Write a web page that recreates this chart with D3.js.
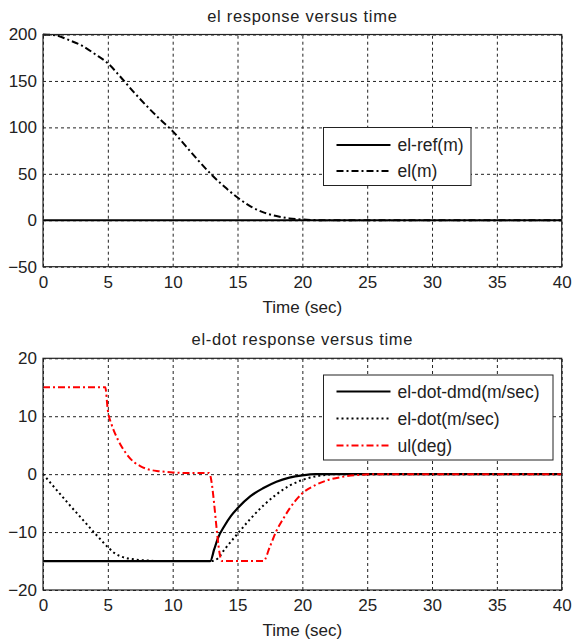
<!DOCTYPE html>
<html>
<head>
<meta charset="utf-8">
<script src="https://cdn.jsdelivr.net/npm/d3@7/dist/d3.min.js"></script>
<style>
body{margin:0;background:#fff;}
text{font-family:"Liberation Sans",Arial,sans-serif;fill:#222;}
</style>
</head>
<body>
<svg id="chart"></svg>
<script>
// ---- data ----
var xTicks = [0,5,10,15,20,25,30,35,40];
var topYTicks = [-50,0,50,100,150,200];
var bottomYTicks = [-20,-10,0,10,20];

var refTime = [0,40];
var refValues = [0,0];

var elTime = [0,1,2,3,4,5,6,7,8,9,10,11,12,13,14,15,16,17,18,19,20,21,22,40];
var elValues = [200,199,194,188,179,169,154,138,123,109,96,80,64,49,36,24.5,15,8.5,4.5,2,0.8,0.2,0,0];

var dmdTime = [0,12.9,13.2,13.5,14,14.5,15,16,17,18,19,20,21,40];
var dmdValues = [-15,-15,-13,-11,-8.9,-7.2,-5.9,-3.8,-2.4,-1.3,-0.6,-0.2,0,0];

var dotTime = [0,1,2,3,4,5,5.5,6,7,8,9,13,13.5,14,15,16,17,18,19,20,21,22,23,40];
var dotValues = [0,-2.6,-5.2,-7.7,-10.2,-12.6,-13.6,-14.2,-14.7,-14.9,-15,-15,-14.5,-13,-10.3,-7.7,-5.4,-3.5,-2,-1,-0.4,-0.1,0,0];

var ulTime = [0,4.8,5,5.3,5.6,6,6.5,7,7.5,8,9,10,11,12.8,13.8,17,17.5,18,18.5,19,19.5,20,21,22,23,24,26,40];
var ulValues = [15,15,11,8.5,6.8,5,3.3,2.1,1.4,0.9,0.5,0.3,0.2,0.2,-15,-15,-12.5,-9.8,-7.8,-6,-4.5,-3.3,-1.9,-1,-0.5,-0.2,0,0];

var toPoints = function(ts, vs){
    return ts.map(function(t,i){ return {t:t, v:vs[i]}; });
}

var styles = {
    solid:{color:"#000", dash:null, width:2.2},
    dashdot:{color:"#000", dash:"7,3,2,3", width:2},
    dotted:{color:"#000", dash:"2,3", width:2},
    reddashdot:{color:"#f00", dash:"7,3,2,3", width:2}
}

var screen = {width:574, height:641};
var svg = d3.select("#chart")
    .attr("width",screen.width)
    .attr("height",screen.height);

var drawPanel = function(p)
{
    var xScale = d3.scaleLinear().domain([0,40]).range([p.left,p.right]);
    var yScale = d3.scaleLinear().domain(p.yDomain).range([p.bottom,p.top]);
    var h = p.bottom-p.top;
    var w = p.right-p.left;

    var g = svg.append("g");

    // grid
    var grid = g.append("g").attr("class","grid");
    grid.append("g")
        .attr("transform","translate(0,"+p.bottom+")")
        .call(d3.axisBottom(xScale).tickValues(xTicks).tickSize(-h).tickFormat(""));
    grid.append("g")
        .attr("transform","translate("+p.left+",0)")
        .call(d3.axisLeft(yScale).tickValues(p.yTicks).tickSize(-w).tickFormat(""));
    grid.selectAll(".domain").remove();
    grid.selectAll("line")
        .attr("stroke","#222")
        .attr("stroke-width",1)
        .attr("stroke-dasharray","3,3");

    // lines
    var line = d3.line()
        .x(function(d){ return xScale(d.t); })
        .y(function(d){ return yScale(d.v); })
        .curve(d3.curveMonotoneX);

    p.series.forEach(function(s){
        var st = styles[s.style];
        g.append("path")
            .datum(toPoints(s.time,s.values))
            .attr("d",line)
            .attr("fill","none")
            .attr("stroke",st.color)
            .attr("stroke-width",st.width)
            .attr("stroke-dasharray",st.dash);
    });

    // axes box
    g.append("rect")
        .attr("x",p.left).attr("y",p.top)
        .attr("width",w).attr("height",h)
        .attr("fill","none")
        .attr("stroke","#222")
        .attr("stroke-width",1.2);

    // tick labels
    var xAxis = g.append("g")
        .attr("transform","translate(0,"+p.bottom+")")
        .call(d3.axisBottom(xScale).tickValues(xTicks).tickSize(0).tickPadding(9));
    var yAxis = g.append("g")
        .attr("transform","translate("+p.left+",0)")
        .call(d3.axisLeft(yScale).tickValues(p.yTicks).tickSize(0).tickPadding(6));
    xAxis.select(".domain").remove();
    yAxis.select(".domain").remove();
    g.selectAll(".tick text")
        .attr("font-size","17px")
        .attr("font-family","Liberation Sans, Arial, sans-serif")
        .attr("fill","#222");

    // title + label
    g.append("text")
        .text(p.title)
        .attr("text-anchor","middle")
        .attr("x",(p.left+p.right)/2)
        .attr("y",p.top-13)
        .attr("font-size","16.5px")
        .attr("letter-spacing","0.7px");
    g.append("text")
        .text("Time (sec)")
        .attr("text-anchor","middle")
        .attr("x",(p.left+p.right)/2)
        .attr("y",p.bottom+46)
        .attr("font-size","17px");

    // legend
    var lg = g.append("g")
        .attr("transform","translate("+p.legend.x+","+p.legend.y+")");
    lg.append("rect")
        .attr("width",p.legend.w)
        .attr("height",p.legend.h)
        .attr("fill","#fff")
        .attr("stroke","#222")
        .attr("stroke-width",1);
    p.series.forEach(function(s,i){
        if(!s.label) return;
        var st = styles[s.style];
        var yy = p.legend.first + i*p.legend.step;
        lg.append("line")
            .attr("x1",13).attr("x2",67)
            .attr("y1",yy).attr("y2",yy)
            .attr("stroke",st.color)
            .attr("stroke-width",st.width)
            .attr("stroke-dasharray",st.dash);
        lg.append("text")
            .text(s.label)
            .attr("x",74)
            .attr("y",yy+6)
            .attr("font-size","17.5px");
    });
}

drawPanel({
    left:43, right:561.7, top:34.5, bottom:266.7,
    yDomain:[-50,200], yTicks:topYTicks,
    title:"el response versus time",
    series:[
        {time:refTime, values:refValues, style:"solid", label:"el-ref(m)"},
        {time:elTime, values:elValues, style:"dashdot", label:"el(m)"}
    ],
    legend:{x:323.5, y:127.5, w:147.5, h:58, first:17.5, step:26}
});

drawPanel({
    left:43, right:561.7, top:358.3, bottom:590,
    yDomain:[-20,20], yTicks:bottomYTicks,
    title:"el-dot response versus time",
    series:[
        {time:dmdTime, values:dmdValues, style:"solid", label:"el-dot-dmd(m/sec)"},
        {time:dotTime, values:dotValues, style:"dotted", label:"el-dot(m/sec)"},
        {time:ulTime, values:ulValues, style:"reddashdot", label:"ul(deg)"}
    ],
    legend:{x:323.5, y:375, w:229.5, h:85, first:16.5, step:27}
});
</script>
</body>
</html>
